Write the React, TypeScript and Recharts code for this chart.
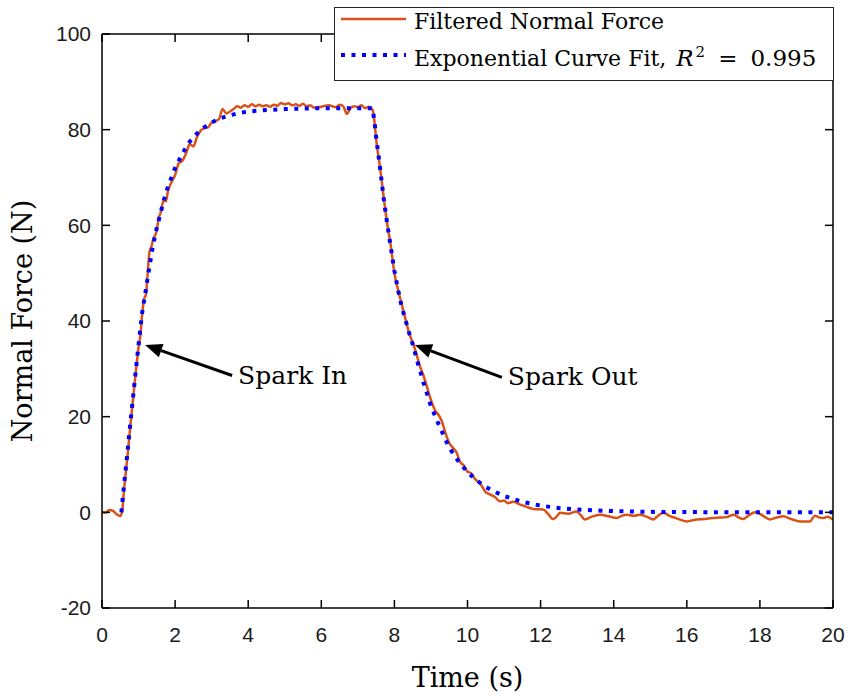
import { Label, Legend, Line, LineChart, ReferenceLine, XAxis, YAxis } from "recharts";

// filtered normal force
const forceTime = [
  0, 0.1, 0.2, 0.3, 0.4, 0.5, 0.55, 0.6, 0.7, 0.8, 0.9, 1.0, 1.05, 1.1, 1.15, 1.2, 1.25, 1.3, 1.35, 1.4,
  1.5, 1.55, 1.6, 1.7, 1.75, 1.8, 1.9, 2.0, 2.1, 2.2, 2.3, 2.4, 2.5, 2.6, 2.7, 2.8, 2.9, 3.0, 3.1, 3.2,
  3.3, 3.4, 3.5, 3.6, 3.7, 3.8, 3.9, 4.0, 4.1, 4.2, 4.3, 4.4, 4.5, 4.6, 4.7, 4.8, 4.9, 5.0, 5.1, 5.2,
  5.3, 5.4, 5.5, 5.6, 5.7, 5.8, 6.0, 6.2, 6.4, 6.5, 6.6, 6.7, 6.8, 6.9, 7.0, 7.1, 7.2, 7.3, 7.4, 7.45,
  7.5, 7.6, 7.7, 7.8, 7.9, 8.0, 8.1, 8.2, 8.3, 8.4, 8.5, 8.6, 8.7, 8.8, 8.9, 9.0, 9.1, 9.2, 9.3, 9.4,
  9.5, 9.6, 9.7, 9.8, 9.9, 10.0, 10.1, 10.2, 10.34, 10.5, 10.6, 10.75, 10.89, 11.0, 11.1, 11.25, 11.44, 11.6, 11.8, 12.07,
  12.2, 12.34, 12.45, 12.53, 12.75, 12.98, 13.1, 13.21, 13.4, 13.62, 13.85, 14.08, 14.2, 14.35, 14.55, 14.72, 14.9, 15.08, 15.2, 15.36,
  15.54, 15.7, 16.0, 16.2, 16.46, 16.7, 16.9, 17.09, 17.28, 17.4, 17.55, 17.7, 17.87, 18.0, 18.1, 18.28, 18.45, 18.64, 18.85, 19.1,
  19.37, 19.5, 19.6, 19.73, 19.85, 20.0,
];
const forceValue = [
  0, -0.1, 0.5, 0.3, -0.4, -0.8, 0.2, 4.5, 12, 20, 27.5, 34.5, 37, 41.5, 44.5, 45.5, 50, 54.5, 55.5, 57,
  59, 61.5, 62.5, 65.5, 65, 67, 69, 70.5, 73, 73.5, 75, 77, 76.5, 78.5, 79.8, 80.3, 80.5, 81.5, 81.8, 82.2,
  84.3, 83.4, 83.8, 84.3, 84.9, 84.6, 85.1, 84.8, 85.3, 84.9, 85.2, 84.9, 85.1, 84.8, 85.2, 85, 85.6, 85.3, 85.5, 85.1,
  85.3, 85, 85.4, 84.9, 85.1, 84.6, 84.8, 85.1, 84.7, 85.2, 84.9, 83.3, 84.5, 84.9, 84.7, 85.1, 84.5, 84.8, 84.2, 82,
  78, 72.5, 66.3, 60.5, 55.8, 50, 46.5, 43.5, 40.5, 37.5, 35.5, 33.2, 30.5, 28.5, 26, 23.5, 21.5, 20.5, 19, 16.5,
  14.5, 13.5, 12.5, 10.5, 9.8, 8.5, 8.2, 7, 6.1, 4.2, 3.8, 3.2, 2.3, 2.5, 1.9, 2.2, 1.6, 1.2, 0.7, 0.6,
  -0.3, -1.4, -0.8, -0.1, -0.3, 0.2, -0.6, -1.5, -0.9, -0.5, -0.8, -1.2, -0.8, -0.5, -0.7, -0.5, -0.9, -1.5, -0.8, -0.1,
  -0.8, -1.2, -1.9, -1.6, -1.4, -1.2, -1.1, -1.0, -0.5, -1.0, -1.4, -0.6, 0, -0.3, -0.8, -1.5, -1.1, -0.8, -1.4, -1.9,
  -1.9, -0.7, -1.0, -1.2, -0.9, -1.5,
];

// exponential curve fit
const fitTime = [
  0.53, 0.6, 0.7, 0.8, 0.9, 1.0, 1.1, 1.2, 1.3, 1.4, 1.5, 1.6, 1.7, 1.8, 1.9, 2.0, 2.2, 2.4, 2.6, 2.8,
  3.0, 3.25, 3.5, 3.75, 4.0, 4.5, 5.0, 5.5, 6.0, 7.0, 7.4, 7.45, 7.5, 7.6, 7.7, 7.8, 7.9, 8.0, 8.1, 8.2,
  8.3, 8.4, 8.52, 8.6, 8.8, 9.0, 9.25, 9.5, 9.75, 10.0, 10.25, 10.5, 10.75, 11.0, 11.5, 12.0, 12.5, 13.0, 13.5, 14.0,
  15.0, 16.0, 18.0, 20.0,
];
const fitValue = [
  0, 5.5, 12.8, 20.5, 27.8, 35, 41.8, 46.5, 51.5, 56, 59.5, 62.5, 65.5, 68, 70, 72, 75, 77.5, 79.2, 80.5,
  81.5, 82.4, 83, 83.5, 83.8, 84.1, 84.3, 84.4, 84.5, 84.5, 84.5, 82, 78.5, 72.5, 66, 60.5, 55.5, 50.5, 46.5, 43,
  40.3, 37.6, 34.7, 32.3, 27, 22.2, 17.7, 13.5, 10.7, 8.4, 6.7, 5.3, 4.3, 3.4, 2.2, 1.4, 0.9, 0.6, 0.4, 0.25,
  0.1, 0.05, 0.02, 0,
];

const xTicks = [0, 2, 4, 6, 8, 10, 12, 14, 16, 18, 20];
const yTicks = [-20, 0, 20, 40, 60, 80, 100];

// arrow annotations (tail -> head, in data units)
const sparkIn = { label: "Spark In", tail: { x: 3.56, y: 28.6 }, head: { x: 1.18, y: 35.0 } };
const sparkOut = { label: "Spark Out", tail: { x: 10.94, y: 28.2 }, head: { x: 8.56, y: 35.0 } };

const forceData = forceTime.map((t, i) => ({ t, f: forceValue[i] }));
const fitData = fitTime.map((t, i) => ({ t, f: fitValue[i] }));

const orange = "#D95319";
const blue = "#0000FF";
const serif = "'DejaVu Serif', serif";
const tickFont = { fontFamily: "'Liberation Sans', Arial, sans-serif", fontSize: 21, fill: "#1a1a1a" };

const arrow = (label: string) => (props: any) => {
  const { x1, y1, x2, y2 } = props;
  const ang = Math.atan2(y2 - y1, x2 - x1);
  const len = 17;
  const half = 7;
  const bx = x2 - len * Math.cos(ang);
  const by = y2 - len * Math.sin(ang);
  const px = -Math.sin(ang) * half;
  const py = Math.cos(ang) * half;
  return (
    <g>
      <line x1={x1} y1={y1} x2={bx} y2={by} stroke="#000" strokeWidth={3} />
      <polygon points={`${x2},${y2} ${bx + px},${by + py} ${bx - px},${by - py}`} fill="#000" />
      <text x={x1 + 6} y={y1 + 8} fontFamily={serif} fontSize={25} fill="#000">
        {label}
      </text>
    </g>
  );
};

const renderLegend = () => (
  <svg width={500} height={74} style={{ display: "block" }}>
    <rect x={0.5} y={0.5} width={499} height={73} fill="#fff" stroke="#262626" strokeWidth={1} />
    <line x1={7} x2={72} y1={12} y2={12} stroke={orange} strokeWidth={2.5} />
    <text x={80} y={22} fontFamily={serif} fontSize={22} fill="#000">
      Filtered Normal Force
    </text>
    <line x1={7} x2={72} y1={48} y2={48} stroke={blue} strokeWidth={4} strokeDasharray="4 6.5" />
    <text x={80} y={59} fontFamily={serif} fontSize={22} fill="#000">
      Exponential Curve Fit,
      <tspan dx={10} fontStyle="italic" fontSize={23}>R</tspan>
      <tspan dx={2} dy={-9} fontSize={15}>2</tspan>
      <tspan dx={13} dy={9} fontSize={23}>=</tspan>
      <tspan dx={13} fontSize={23}>0.995</tspan>
    </text>
  </svg>
);

export default function App() {
  return (
    <div style={{ position: "absolute", left: 0, top: 0 }}>
      <LineChart width={859} height={697} margin={{ top: 33, right: 25, bottom: 0, left: 0 }}>
        <XAxis
          dataKey="t"
          type="number"
          domain={[0, 20]}
          ticks={xTicks}
          allowDataOverflow
          height={89}
          tickSize={-8}
          tickMargin={27}
          tick={tickFont}
          stroke="#000"
          strokeWidth={1.5}
          tickLine={{ stroke: "#000", strokeWidth: 1.5 }}
        >
          <Label
            content={(p: any) => (
              <text
                x={p.viewBox.x + p.viewBox.width / 2}
                y={p.viewBox.y + 79}
                textAnchor="middle"
                fontFamily={serif}
                fontSize={27}
                fill="#000"
              >
                Time (s)
              </text>
            )}
          />
        </XAxis>
        <XAxis
          xAxisId="top"
          orientation="top"
          dataKey="t"
          type="number"
          domain={[0, 20]}
          ticks={xTicks}
          allowDataOverflow
          height={1}
          tickSize={-8}
          tickFormatter={() => ""}
          stroke="#000"
          strokeWidth={1.5}
        />
        <YAxis
          type="number"
          domain={[-20, 100]}
          ticks={yTicks}
          allowDataOverflow
          width={102}
          tickSize={-8}
          tickMargin={19}
          tick={tickFont}
          stroke="#000"
          strokeWidth={1.5}
        >
          <Label
            content={(p: any) => {
              const cx = p.viewBox.x + 32;
              const cy = p.viewBox.y + p.viewBox.height / 2;
              return (
                <text
                  x={cx}
                  y={cy}
                  transform={`rotate(-90, ${cx}, ${cy})`}
                  textAnchor="middle"
                  fontFamily={serif}
                  fontSize={27}
                  fill="#000"
                >
                  Normal Force (N)
                </text>
              );
            }}
          />
        </YAxis>
        <YAxis
          yAxisId="right"
          orientation="right"
          type="number"
          domain={[-20, 100]}
          ticks={yTicks}
          allowDataOverflow
          width={1}
          tickSize={-8}
          tickFormatter={() => ""}
          stroke="#000"
          strokeWidth={1.5}
        />
        <Line
          data={fitData}
          dataKey="f"
          xAxisId="top"
          yAxisId="right"
          stroke="none"
          dot={false}
          activeDot={false}
          legendType="none"
          isAnimationActive={false}
        />
        <Line
          data={forceData}
          dataKey="f"
          name="Filtered Normal Force"
          type="monotone"
          stroke={orange}
          strokeWidth={2.5}
          dot={false}
          isAnimationActive={false}
        />
        <Line
          data={fitData}
          dataKey="f"
          name="Exponential Curve Fit"
          type="linear"
          stroke={blue}
          strokeWidth={4}
          strokeDasharray="4 6.5"
          dot={false}
          isAnimationActive={false}
        />
        <ReferenceLine segment={[sparkIn.tail, sparkIn.head]} shape={arrow(sparkIn.label)} />
        <ReferenceLine segment={[sparkOut.tail, sparkOut.head]} shape={arrow(sparkOut.label)} />
        <Legend
          content={renderLegend}
          layout="vertical"
          align="center"
          verticalAlign="middle"
          wrapperStyle={{ left: 334, top: 7, width: 500, height: 74 }}
        />
      </LineChart>
    </div>
  );
}
